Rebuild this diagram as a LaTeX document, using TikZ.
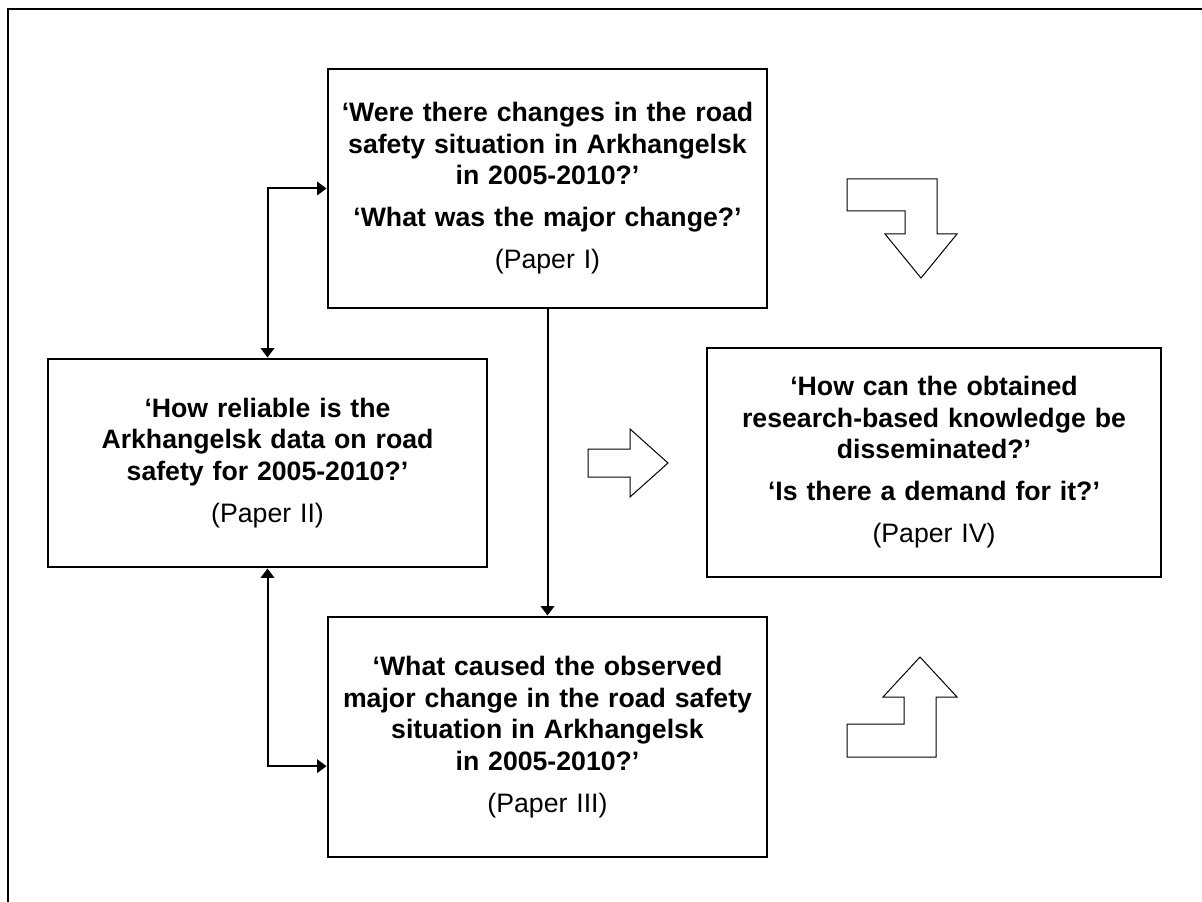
\documentclass[tikz,border=0pt]{standalone}
\usepackage{fontspec}
\setmainfont{Liberation Sans}
\usetikzlibrary{arrows.meta,calc}

\begin{document}
\begin{tikzpicture}[x=.75pt,y=-.75pt,>={Triangle[length=7pt,width=10pt]},
	qbox/.style={draw,line width=2.2pt,align=center,inner sep=0pt,font=\fontsize{20}{23.6}\selectfont\bfseries}]
	\useasboundingbox(0,0) rectangle (1202,902);
	\draw[line width=2pt](8,902)--(8,9)--(1202,9);
	% question boxes
	\node[qbox,text width=329.25pt,minimum height=179.25pt](top) at (547.5,188.5)
		{‘Were there changes in the road\\safety situation in Arkhangelsk\\in 2005-2010?’\\[8pt]‘What was the major change?’\\[8pt]{\mdseries (Paper I)}};
	\node[qbox,text width=329.25pt,minimum height=156pt](left) at (267.5,463)
		{‘How reliable is the\\Arkhangelsk data on road\\safety for 2005-2010?’\\[8pt]{\mdseries (Paper II)}};
	\node[qbox,text width=340.5pt,minimum height=171.75pt](right) at (934,462.5)
		{‘How can the obtained\\research-based knowledge be\\disseminated?’\\[8pt]‘Is there a demand for it?’\\[8pt]{\mdseries (Paper IV)}};
	\node[qbox,text width=329.25pt,minimum height=180pt](bottom) at (547.5,737)
		{‘What caused the observed\\major change in the road safety\\situation in Arkhangelsk\\in 2005-2010?’\\[8pt]{\mdseries (Paper III)}};
	% connectors
	\draw[<->,line width=1.5pt](left.north)|-(top.west);
	\draw[<->,line width=1.5pt](left.south)|-($(bottom.north west)!.62!(bottom.south west)$);
	\draw[->,line width=1.5pt](top.south)--(bottom.north);
	% block arrows
	\draw[line width=.75pt](847,179)--(937,179)--(937,234)--(957,234)--(921,278)--(885,234)--(905,234)--(905,211)--(847,211)--cycle;
	\draw[line width=.75pt](588,449)--(630,449)--(630,429)--(668,463)--(630,497)--(630,477)--(588,477)--cycle;
	\draw[line width=.75pt](847,757)--(936,757)--(936,697)--(957,697)--(920,657)--(883,697)--(904,697)--(904,724)--(847,724)--cycle;
\end{tikzpicture}
\end{document}
